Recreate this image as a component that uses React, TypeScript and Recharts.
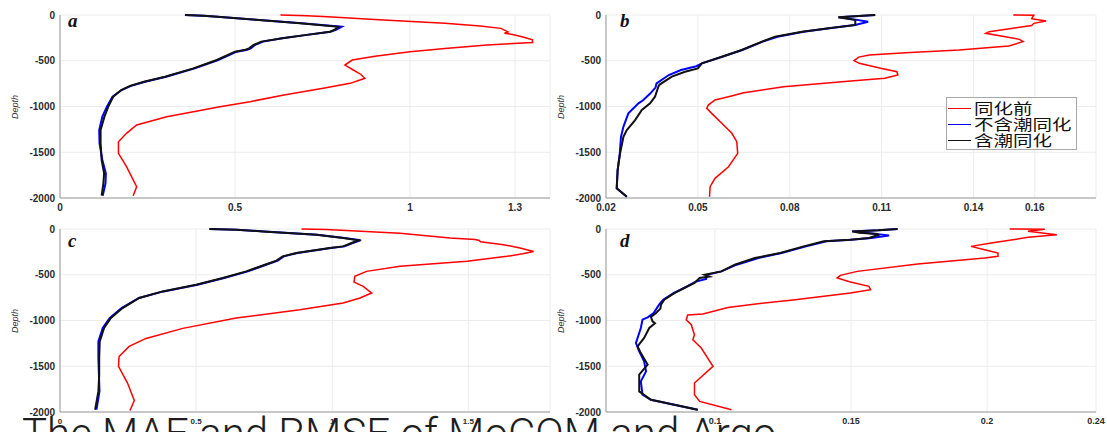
import React from 'react';
import { ScatterChart, Scatter, XAxis, YAxis, CartesianGrid, Legend } from 'recharts';

// depth (m), error value
const depthTicks = [0, -500, -1000, -1500, -2000];
const xTicksA = [0, 0.5, 1, 1.3];
const xTicksB = [0.02, 0.05, 0.08, 0.11, 0.14, 0.16];
const xTicksC = [0, 0.5, 1, 1.5];
const xTicksD = [0.1, 0.15, 0.2, 0.24];

const seriesNames = ['同化前', '不含潮同化', '含潮同化'];
const seriesColors = ['#ff0000', '#0000ff', '#111111'];

const aRed = [[0, 0.63], [-7, 0.705], [-20, 0.765], [-55, 0.924], [-91, 1.1], [-120, 1.2], [-146, 1.26], [-185, 1.28], [-200, 1.27], [-210, 1.29], [-237, 1.32], [-270, 1.35], [-300, 1.35], [-328, 1.22], [-365, 1.1], [-401, 1.0], [-450, 0.9], [-492, 0.835], [-547, 0.814], [-601, 0.838], [-650, 0.86], [-692, 0.871], [-747, 0.829], [-801, 0.752], [-874, 0.64], [-947, 0.543], [-1002, 0.457], [-1111, 0.305], [-1202, 0.219], [-1293, 0.19], [-1385, 0.167], [-1512, 0.167], [-1658, 0.19], [-1877, 0.219], [-1975, 0.209]];
const aBlue = [[0, 0.357], [-7, 0.41], [-20, 0.45], [-55, 0.57], [-91, 0.69], [-128, 0.805], [-160, 0.79], [-182, 0.773], [-220, 0.7], [-255, 0.635], [-291, 0.58], [-330, 0.556], [-364, 0.545], [-380, 0.535], [-401, 0.505], [-492, 0.452], [-583, 0.385], [-674, 0.303], [-729, 0.243], [-775, 0.203], [-820, 0.176], [-893, 0.15], [-1002, 0.134], [-1111, 0.121], [-1257, 0.112], [-1403, 0.113], [-1585, 0.121], [-1731, 0.131], [-1840, 0.13], [-1975, 0.122]];
const aBlack = [[0, 0.357], [-7, 0.41], [-20, 0.45], [-55, 0.568], [-91, 0.686], [-128, 0.795], [-160, 0.785], [-182, 0.771], [-220, 0.7], [-255, 0.635], [-291, 0.575], [-330, 0.552], [-364, 0.54], [-380, 0.53], [-401, 0.5], [-492, 0.448], [-583, 0.381], [-674, 0.3], [-729, 0.24], [-775, 0.2], [-820, 0.175], [-893, 0.152], [-1002, 0.138], [-1111, 0.127], [-1257, 0.116], [-1403, 0.116], [-1585, 0.119], [-1731, 0.126], [-1840, 0.124], [-1975, 0.119]];

const bRed = [[0, 0.153], [-3, 0.1597], [-40, 0.159], [-66, 0.1637], [-91, 0.1597], [-115, 0.159], [-182, 0.1451], [-200, 0.144], [-237, 0.1504], [-266, 0.155], [-291, 0.1562], [-339, 0.1515], [-383, 0.1353], [-412, 0.1178], [-437, 0.106], [-460, 0.1025], [-499, 0.101], [-528, 0.1027], [-583, 0.1097], [-620, 0.115], [-656, 0.1153], [-690, 0.111], [-729, 0.097], [-783, 0.078], [-850, 0.065], [-893, 0.06], [-929, 0.0556], [-984, 0.0534], [-1020, 0.0529], [-1075, 0.0545], [-1184, 0.0578], [-1293, 0.0611], [-1385, 0.0627], [-1512, 0.063], [-1658, 0.06], [-1785, 0.0556], [-1877, 0.054], [-1986, 0.0538]];
const bBlue = [[0, 0.1079], [-25, 0.0959], [-45, 0.1005], [-73, 0.1056], [-109, 0.1014], [-146, 0.093], [-182, 0.0845], [-237, 0.076], [-291, 0.0712], [-383, 0.0645], [-456, 0.058], [-528, 0.0513], [-560, 0.0495], [-601, 0.0445], [-656, 0.0405], [-747, 0.0365], [-790, 0.0362], [-856, 0.0345], [-929, 0.0322], [-966, 0.0306], [-1075, 0.0273], [-1220, 0.0257], [-1330, 0.0249], [-1512, 0.0245], [-1694, 0.0238], [-1894, 0.0235], [-1986, 0.0268]];
const bBlack = [[0, 0.1079], [-25, 0.0959], [-55, 0.1014], [-109, 0.1014], [-146, 0.0927], [-182, 0.084], [-237, 0.0752], [-291, 0.0709], [-383, 0.0643], [-456, 0.0578], [-528, 0.0513], [-583, 0.05], [-620, 0.0458], [-674, 0.0415], [-760, 0.0375], [-783, 0.0371], [-893, 0.036], [-966, 0.0344], [-1038, 0.0317], [-1148, 0.0295], [-1257, 0.0268], [-1330, 0.0257], [-1512, 0.0246], [-1694, 0.0238], [-1894, 0.0235], [-1986, 0.0268]];

const cRed = [[0, 0.887], [-5, 0.979], [-47, 1.249], [-98, 1.433], [-115, 1.525], [-125, 1.54], [-140, 1.545], [-171, 1.629], [-208, 1.69], [-245, 1.74], [-270, 1.7], [-299, 1.642], [-353, 1.495], [-408, 1.249], [-463, 1.126], [-518, 1.083], [-580, 1.08], [-627, 1.114], [-700, 1.145], [-754, 1.102], [-809, 1.04], [-882, 0.881], [-973, 0.647], [-1086, 0.451], [-1196, 0.316], [-1283, 0.254], [-1393, 0.217], [-1502, 0.215], [-1684, 0.248], [-1874, 0.273], [-1983, 0.257]];
const cBlue = [[0, 0.549], [-8, 0.65], [-26, 0.75], [-62, 0.945], [-98, 1.045], [-124, 1.104], [-153, 1.075], [-190, 1.045], [-208, 0.995], [-262, 0.872], [-299, 0.822], [-346, 0.8], [-385, 0.762], [-463, 0.69], [-536, 0.603], [-609, 0.505], [-682, 0.38], [-754, 0.29], [-864, 0.226], [-973, 0.183], [-1082, 0.157], [-1229, 0.141], [-1411, 0.141], [-1593, 0.143], [-1775, 0.145], [-1975, 0.134]];
const cBlack = [[0, 0.549], [-8, 0.647], [-26, 0.745], [-62, 0.942], [-98, 1.04], [-124, 1.096], [-153, 1.071], [-190, 1.04], [-208, 0.991], [-262, 0.868], [-299, 0.818], [-346, 0.795], [-385, 0.758], [-463, 0.684], [-536, 0.598], [-609, 0.5], [-682, 0.377], [-754, 0.291], [-864, 0.23], [-973, 0.187], [-1082, 0.162], [-1229, 0.146], [-1411, 0.144], [-1593, 0.144], [-1775, 0.141], [-1975, 0.129]];

const dRed = [[0, 0.2083], [-3, 0.2212], [-25, 0.215], [-62, 0.2256], [-91, 0.2151], [-153, 0.2015], [-190, 0.1941], [-226, 0.1991], [-262, 0.204], [-299, 0.204], [-317, 0.1991], [-383, 0.1745], [-463, 0.1523], [-507, 0.1461], [-536, 0.1449], [-580, 0.1498], [-627, 0.1566], [-663, 0.1572], [-700, 0.1498], [-773, 0.1295], [-827, 0.1128], [-857, 0.1048], [-929, 0.0956], [-940, 0.09], [-991, 0.0895], [-1046, 0.0913], [-1155, 0.0925], [-1210, 0.0919], [-1301, 0.095], [-1502, 0.0993], [-1683, 0.0925], [-1811, 0.0925], [-1884, 0.0944], [-1975, 0.1061]];
const dBlue = [[0, 0.1671], [-15, 0.16], [-26, 0.1504], [-45, 0.156], [-70, 0.164], [-99, 0.1575], [-117, 0.15], [-135, 0.141], [-190, 0.1335], [-262, 0.1245], [-317, 0.116], [-390, 0.108], [-463, 0.1024], [-500, 0.097], [-545, 0.0968], [-575, 0.093], [-645, 0.0885], [-700, 0.0848], [-773, 0.081], [-827, 0.0795], [-918, 0.0775], [-966, 0.0753], [-991, 0.0734], [-1082, 0.0728], [-1246, 0.071], [-1338, 0.0722], [-1447, 0.074], [-1556, 0.0747], [-1665, 0.0728], [-1811, 0.0734], [-1866, 0.0765], [-1975, 0.0937]];
const dBlack = [[0, 0.1671], [-15, 0.16], [-26, 0.1504], [-40, 0.153], [-55, 0.1597], [-65, 0.16], [-99, 0.1566], [-117, 0.1498], [-135, 0.14], [-190, 0.1326], [-262, 0.124], [-317, 0.1147], [-390, 0.1073], [-463, 0.1024], [-500, 0.0962], [-520, 0.098], [-536, 0.0944], [-590, 0.0925], [-645, 0.0888], [-700, 0.0851], [-773, 0.0814], [-827, 0.0802], [-870, 0.08], [-918, 0.0784], [-960, 0.0765], [-1009, 0.0771], [-1030, 0.078], [-1082, 0.0759], [-1191, 0.074], [-1283, 0.0716], [-1356, 0.0728], [-1483, 0.0753], [-1592, 0.0722], [-1775, 0.0722], [-1866, 0.0765], [-1975, 0.0937]];

const toPts = (rows: number[][]) => rows.map(([d, v]) => ({ v, d }));

const tickFont = 'Liberation Sans, Arial, sans-serif';

const LegendBox = () => (
  <div style={{ border: '1px solid #a8a8a8', background: '#fff', width: 129, height: 48, paddingTop: 2, paddingBottom: 1 }}>
    {seriesNames.map((n, i) => (
      <div key={n} style={{ display: 'flex', alignItems: 'center', height: 16 }}>
        <span style={{ width: 23, height: 0, borderTop: `1.5px solid ${seriesColors[i]}`, marginLeft: 1 }} />
        <span style={{ marginLeft: 3, fontSize: 15, lineHeight: '16px', fontFamily: '"Noto Sans CJK SC", sans-serif', transform: 'scaleX(1.3)', transformOrigin: 'left center', whiteSpace: 'nowrap', color: '#111' }}>{n}</span>
      </div>
    ))}
  </div>
);

type PanelProps = {
  left: number;
  top: number;
  domain: number[];
  ticks: number[];
  xFont: number;
  rows: number[][][];
  legend?: boolean;
};

function Panel({ left, top, domain, ticks, xFont, rows, legend }: PanelProps) {
  return (
    <div style={{ position: 'absolute', left, top, width: 560, height: 215 }}>
      <ScatterChart width={560} height={215} margin={{ top: 15, right: 10, bottom: 0, left: 0 }}>
        <CartesianGrid stroke="#ececec" />
        <XAxis
          type="number"
          dataKey="v"
          domain={domain}
          ticks={ticks}
          interval={0}
          height={17}
          axisLine={{ stroke: '#9a9a9a' }}
          tickLine={false}
          tickSize={4}
          tickMargin={2}
          tick={{ fontSize: xFont, fontWeight: 700, fill: '#2b2b2b', fontFamily: tickFont }}
        />
        <YAxis
          type="number"
          dataKey="d"
          domain={[-2000, 0]}
          ticks={depthTicks}
          interval={0}
          width={60}
          axisLine={{ stroke: '#9a9a9a' }}
          tickLine={false}
          tickSize={3}
          tickMargin={2}
          tick={{ fontSize: 10, fontWeight: 700, fill: '#2b2b2b', fontFamily: tickFont }}
        />
        {rows.map((r, i) => (
          <Scatter
            key={seriesNames[i]}
            name={seriesNames[i]}
            data={toPts(r)}
            fill={seriesColors[i]}
            line={{ stroke: seriesColors[i], strokeWidth: i === 0 ? 1.5 : 2 }}
            shape={() => <g />}
            isAnimationActive={false}
          />
        ))}
        {legend && (
          <Legend
            content={() => <LegendBox />}
            wrapperStyle={{ left: 400, top: 97, width: 0, height: 0, overflow: 'visible' }}
          />
        )}
      </ScatterChart>
    </div>
  );
}

const letters = [
  { t: 'a', x: 68, y: 27 },
  { t: 'b', x: 620, y: 27 },
  { t: 'c', x: 68, y: 247 },
  { t: 'd', x: 620, y: 247 },
];
const depthLabels = [
  { x: 18, y: 107 },
  { x: 564, y: 107 },
  { x: 18, y: 321 },
  { x: 564, y: 321 },
];

export default function App() {
  return (
    <div style={{ position: 'absolute', left: 0, top: 0, width: 1107, height: 432, overflow: 'hidden', background: '#fff' }}>
      <Panel left={0} top={0} domain={[0, 1.4]} ticks={xTicksA} xFont={10} rows={[aRed, aBlue, aBlack]} />
      <Panel left={546} top={0} domain={[0.02, 0.18]} ticks={xTicksB} xFont={10} rows={[bRed, bBlue, bBlack]} legend />
      <Panel left={0} top={214} domain={[0, 1.8]} ticks={xTicksC} xFont={8} rows={[cRed, cBlue, cBlack]} />
      <Panel left={546} top={214} domain={[0.06, 0.24]} ticks={xTicksD} xFont={9} rows={[dRed, dBlue, dBlack]} />
      <svg width={1107} height={432} style={{ position: 'absolute', left: 0, top: 0, pointerEvents: 'none' }}>
        {depthLabels.map((p, i) => (
          <text key={i} transform={`translate(${p.x},${p.y}) rotate(-90)`} textAnchor="middle" fontSize={9} fontStyle="italic" fontFamily={tickFont} fill="#333">
            Depth
          </text>
        ))}
        {letters.map((l) => (
          <text key={l.t} x={l.x} y={l.y} fontSize={19} fontStyle="italic" fontWeight={700} fontFamily="Liberation Serif, serif" fill="#111">
            {l.t}
          </text>
        ))}
        <text x={22} y={448} fontSize={42} fontWeight={300} fontFamily="Roboto, sans-serif" fill="#1e1e1e">
          The MAE and RMSE of MoCOM and Argo
        </text>
      </svg>
    </div>
  );
}
